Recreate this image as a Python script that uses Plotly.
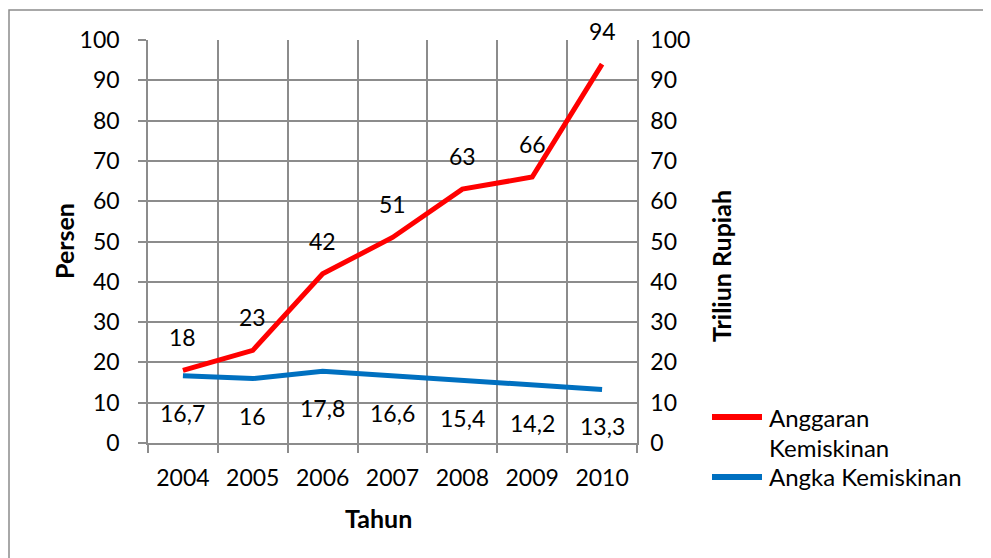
import plotly.graph_objects as go

years = [2004, 2005, 2006, 2007, 2008, 2009, 2010]
anggaran = [18, 23, 42, 51, 63, 66, 94]          # Triliun Rupiah (right axis)
angka = [16.7, 16, 17.8, 16.6, 15.4, 14.2, 13.3]  # Persen (left axis)
y_ticks = list(range(0, 101, 10))
series_names = ["Anggaran<br>Kemiskinan", "Angka Kemiskinan"]
colors = ["#FF0000", "#0070C0"]

FONT = "Lato, 'Open Sans', sans-serif"
GRID = "#8c8c8c"
OFF = 8                       # page body margin
W, H = 991 - OFF, 558 - OFF
L, R, T, B = 148, 637, 40, 443   # plot area in picture pixels


def px_x(x):
    return (x - L) / (R - L)


def px_y(y):
    return (B - y) / (B - T)


def fmt(v):
    return str(v).replace(".", ",")


fig = go.Figure()
fig.add_trace(go.Scatter(
    x=years, y=anggaran, mode="lines", name=series_names[0],
    line=dict(color=colors[0], width=5), yaxis="y2", showlegend=False))
fig.add_trace(go.Scatter(
    x=years, y=angka, mode="lines", name=series_names[1],
    line=dict(color=colors[1], width=5), yaxis="y", showlegend=False))

lab_font = dict(family=FONT, size=23, color="black")
annotations = []
for x, v in zip(years, anggaran):
    annotations.append(dict(x=x, y=v, xref="x", yref="y2", text=fmt(v),
                            showarrow=False, yshift=33, font=lab_font))
for x, v in zip(years, angka):
    annotations.append(dict(x=x, y=v, xref="x", yref="y", text=fmt(v),
                            showarrow=False, yshift=-37, font=lab_font))

title_font = dict(family=FONT, size=25, color="black")
annotations += [
    dict(text="<b>Persen</b>", x=px_x(64), y=px_y(241), xref="paper", yref="paper",
         xanchor="center", yanchor="middle", textangle=-90, showarrow=False,
         font=title_font),
    dict(text="<b>Triliun Rupiah</b>", x=px_x(721), y=px_y(266), xref="paper",
         yref="paper", xanchor="center", yanchor="middle", textangle=-90,
         showarrow=False, font=title_font),
    dict(text="<b>Tahun</b>", x=px_x(378), y=px_y(518), xref="paper", yref="paper",
         xanchor="center", yanchor="middle", showarrow=False, font=title_font),
]

# legend (drawn by hand to match the long line samples)
leg_font = dict(family=FONT, size=24, color="black")
shapes = []
leg_rows = [(417, colors[0], ["Anggaran", "Kemiskinan"]),
            (477, colors[1], ["Angka Kemiskinan"])]
for ypx, col, lines in leg_rows:
    shapes.append(dict(type="line", xref="paper", yref="paper",
                       x0=px_x(712), x1=px_x(762), y0=px_y(ypx), y1=px_y(ypx),
                       line=dict(color=col, width=6)))
    for i, t in enumerate(lines):
        annotations.append(dict(text=t, x=px_x(767), y=px_y(ypx + 30 * i),
                                xref="paper", yref="paper", xanchor="left",
                                yanchor="middle", showarrow=False, font=leg_font))

shapes.append(dict(type="rect", xref="paper", yref="paper",
                   x0=px_x(9), y0=px_y(580), x1=px_x(1010), y1=px_y(10),
                   line=dict(color="#8c8c8c", width=1.5), fillcolor="rgba(0,0,0,0)",
                   layer="below"))

fig.update_layout(
    width=W, height=H, autosize=False,
    margin=dict(l=L - OFF, r=W - (R - OFF), t=T - OFF, b=H - (B - OFF), pad=0),
    paper_bgcolor="white", plot_bgcolor="white",
    font=dict(family=FONT, size=23, color="black"),
    showlegend=False,
    xaxis=dict(
        range=[2003.5, 2010.5], tickmode="array", tickvals=years,
        ticktext=[str(y) for y in years], ticks="", showgrid=False,
        showline=True, linecolor=GRID, linewidth=1.5, zeroline=False,
        ticklabelstandoff=14, automargin=False,
        minor=dict(tickmode="linear", tick0=2003.5, dtick=1, showgrid=True,
                   gridcolor=GRID, gridwidth=1.5, ticks="outside", ticklen=8,
                   tickcolor=GRID, tickwidth=1.5),
    ),
    yaxis=dict(
        range=[0, 100], tickmode="array", tickvals=y_ticks, showgrid=True,
        gridcolor=GRID, gridwidth=1.5, showline=True, linecolor=GRID, linewidth=1.5,
        ticks="outside", ticklen=8, tickcolor=GRID, tickwidth=1.5,
        zeroline=False, ticklabelstandoff=14, automargin=False,
    ),
    yaxis2=dict(
        range=[0, 100], tickmode="array", tickvals=y_ticks, overlaying="y",
        side="right", showgrid=False, showline=True, linecolor=GRID, linewidth=1.5,
        ticks="", zeroline=False, ticklabelstandoff=7, automargin=False,
    ),
    annotations=annotations,
    shapes=shapes,
)

fig.write_html("out.html")
